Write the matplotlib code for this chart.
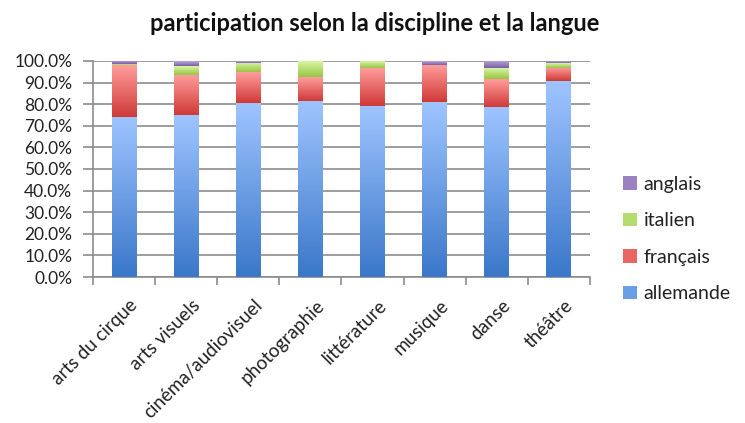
import numpy as np
import matplotlib
matplotlib.use('Agg')
import matplotlib.pyplot as plt
from matplotlib.colors import LinearSegmentedColormap
from matplotlib.patches import Patch
from matplotlib.ticker import PercentFormatter
from matplotlib.transforms import ScaledTranslation

plt.rcParams['font.family'] = ['Lato', 'DejaVu Sans']

# données (en %)
disciplines = ['arts du cirque', 'arts visuels', 'cinéma/audiovisuel', 'photographie',
               'littérature', 'musique', 'danse', 'théâtre']
allemande = [74.2, 74.9, 80.6, 81.5, 79.2, 80.8, 78.8, 90.5]
francais = [24.0, 18.8, 14.3, 11.1, 17.7, 17.2, 12.9, 6.4]
italien = [0.3, 4.1, 4.2, 7.4, 3.1, 0.3, 4.8, 2.2]
anglais = [1.5, 2.2, 0.9, 0.0, 0.0, 1.7, 3.5, 0.9]

# nom, valeurs, bas du dégradé, haut du dégradé, couleur légende
series = [('allemande', allemande, '#3b78c9', '#9ec4ff', '#6a9fe6'),
          ('français', francais, '#cf3a38', '#ff9d9b', '#ea6664'),
          ('italien', italien, '#98c545', '#d8f4a2', '#b5dc6e'),
          ('anglais', anglais, '#7b5ea6', '#bba6dc', '#9a82c2')]

fig = plt.figure(figsize=(7.45, 4.23), dpi=100)
ax = fig.add_axes([0.1248, 0.345, 0.667, 0.511])

x = np.arange(len(disciplines))
bottom = np.zeros(len(disciplines))
handles = []
grad = np.linspace(0, 1, 64).reshape(-1, 1)
for name, vals, dark, light, leg in series:
    vals = np.array(vals)
    bars = ax.bar(x, vals, 0.4, bottom=bottom, facecolor='none', edgecolor='none', zorder=3)
    cmap = LinearSegmentedColormap.from_list(name, [dark, light])
    for b in bars:
        if b.get_height() <= 0:
            continue
        x0, y0 = b.get_x(), b.get_y()
        im = ax.imshow(grad, cmap=cmap, origin='lower', aspect='auto', zorder=3,
                       extent=(x0, x0 + b.get_width(), y0, y0 + b.get_height()))
        im.set_clip_path(b)
    bottom += vals
    handles.append(Patch(facecolor=leg, edgecolor='none', label=name))

ax.set_xlim(-0.5, len(disciplines) - 0.5)
ax.set_ylim(0, 100)
ax.set_yticks(np.arange(0, 101, 10))
ax.yaxis.set_major_formatter(PercentFormatter(decimals=1))
ax.yaxis.grid(True, color='#8c8c8c', linewidth=1.2, zorder=0)
ax.set_axisbelow(True)

ax.set_xticks(x)
ax.set_xticklabels(disciplines, rotation=45, ha='right', rotation_mode='anchor', fontsize=13.5,
                   color='#222222')
ax.tick_params(axis='x', which='major', length=0, pad=12)
ax.set_xticks(np.arange(-0.5, len(disciplines)), minor=True)
ax.tick_params(axis='x', which='minor', length=6, color='#8c8c8c', width=1.2)
ax.tick_params(axis='y', length=7, color='#8c8c8c', width=1.2, labelsize=12.5,
               labelcolor='#222222', pad=8)

# décaler les étiquettes un peu à droite (après tick_params, qui les remet à zéro)
shift = ScaledTranslation(0.05, -0.03, fig.dpi_scale_trans)
for lab in ax.xaxis.get_majorticklabels():
    lab.set_transform(lab.get_transform() + shift)

for s in ['top', 'right']:
    ax.spines[s].set_visible(False)
for s in ['left', 'bottom']:
    ax.spines[s].set_color('#8c8c8c')
    ax.spines[s].set_linewidth(1.2)

fig.text(0.503, 0.944, 'participation selon la discipline et la langue', ha='center', va='center',
         fontsize=17, fontweight='bold', color='#111111')

fig.legend(handles=handles[::-1], loc='center left', bbox_to_anchor=(0.813, 0.435), frameon=False,
           fontsize=14, handlelength=0.7, handleheight=0.7, handletextpad=0.35, labelspacing=1.0,
           labelcolor='#222222')

fig.savefig('out.png', dpi=100)
